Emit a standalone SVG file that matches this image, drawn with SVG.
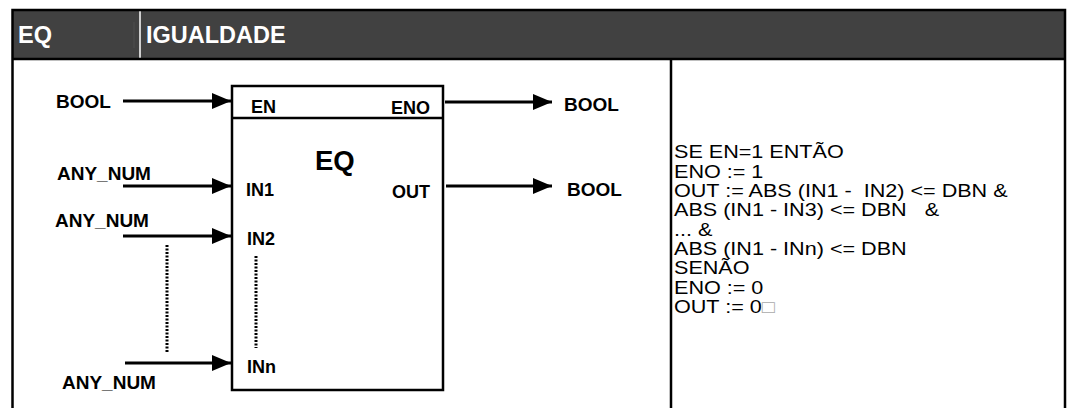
<svg xmlns="http://www.w3.org/2000/svg" width="1069" height="408" viewBox="0 0 1069 408">
<defs>
<marker id="ah" markerUnits="userSpaceOnUse" markerWidth="20" markerHeight="16" refX="19" refY="8" orient="auto">
<polygon points="0,0 19,8 0,16" fill="#000"/>
</marker>
<style>
.lbl{font-family:"Liberation Sans",Arial,sans-serif;font-weight:bold;font-size:19px;fill:#000}
.pin{font-family:"Liberation Sans",Arial,sans-serif;font-weight:bold;font-size:18px;fill:#000}
.hdr{font-family:"Liberation Sans",Arial,sans-serif;font-weight:bold;font-size:23.5px;fill:#fff}
.code{font-family:"Liberation Sans",Arial,sans-serif;font-size:17.5px;fill:#000;white-space:pre}
.wire{stroke:#000;stroke-width:3;fill:none}
.dot{stroke:#000;stroke-width:3;fill:none;stroke-dasharray:2 1.5}
</style>
</defs>
<rect width="1069" height="408" fill="#fff"/>
<g id="table">
<rect x="12" y="10" width="1053" height="49" fill="#414141"/>
<line x1="134" y1="22" x2="134" y2="48" stroke="#4e4e4e" stroke-width="1"/>
<line x1="140" y1="10" x2="140" y2="58" stroke="#fff" stroke-width="1.5"/>
<path d="M12.5,420 V10 H1065 V420" fill="none" stroke="#000" stroke-width="2.5"/>
<line x1="12" y1="59" x2="1065" y2="59" stroke="#000" stroke-width="2.5"/>
<line x1="671" y1="59" x2="671" y2="420" stroke="#000" stroke-width="2.5"/>
<text class="hdr" x="18" y="43">EQ</text>
<text class="hdr" x="146" y="43">IGUALDADE</text>
</g>
<g id="block-EQ">
<rect x="232" y="86" width="211" height="304" fill="#fff" stroke="#000" stroke-width="2.5"/>
<line x1="232" y1="118" x2="443" y2="118" stroke="#000" stroke-width="2.5"/>
<text class="pin" x="251" y="113">EN</text>
<text class="pin" x="430" y="114" text-anchor="end">ENO</text>
<text x="315" y="170" style="font-family:'Liberation Sans',Arial,sans-serif;font-weight:bold;font-size:27.5px">EQ</text>
<text class="pin" x="246" y="196">IN1</text>
<text class="pin" x="430" y="198" text-anchor="end">OUT</text>
<text class="pin" x="247" y="245">IN2</text>
<line class="dot" x1="256" y1="256" x2="256" y2="348"/>
<text class="pin" x="247" y="373">INn</text>
</g>
<g id="labels">
<text class="lbl" x="56" y="108">BOOL</text>
<text class="lbl" x="57" y="180">ANY_NUM</text>
<text class="lbl" x="55" y="227">ANY_NUM</text>
<text class="lbl" x="62" y="389">ANY_NUM</text>
<text class="lbl" x="564" y="111">BOOL</text>
<text class="lbl" x="567" y="196">BOOL</text>
</g>
<g id="connectors">
<line class="wire" x1="123" y1="101" x2="231" y2="101" marker-end="url(#ah)"/>
<line class="wire" x1="123" y1="186" x2="231" y2="186" marker-end="url(#ah)"/>
<line class="wire" x1="123" y1="236" x2="231" y2="236" marker-end="url(#ah)"/>
<line class="wire" x1="125" y1="363" x2="231" y2="363" marker-end="url(#ah)"/>
<line class="dot" x1="167" y1="245" x2="167" y2="353"/>
<line class="wire" x1="445" y1="102" x2="552" y2="102" marker-end="url(#ah)"/>
<line class="wire" x1="446" y1="186" x2="552" y2="186" marker-end="url(#ah)"/>
</g>
<g id="description" transform="translate(674,0) scale(1.234,1)">
<text class="code" x="0" y="158.5">SE EN=1 ENTÃO</text>
<text class="code" x="0" y="177.8">ENO := 1</text>
<text class="code" x="0" y="197.1">OUT := ABS (IN1 -  IN2) &lt;= DBN &amp;</text>
<text class="code" x="0" y="216.4">ABS (IN1 - IN3) &lt;= DBN   &amp;</text>
<text class="code" x="0" y="235.7">... &amp;</text>
<text class="code" x="0" y="255">ABS (IN1 - INn) &lt;= DBN</text>
<text class="code" x="0" y="274.3">SENÃO</text>
<text class="code" x="0" y="293.6">ENO := 0</text>
<text class="code" x="0" y="312.9">OUT := 0<tspan fill="#aaa">□</tspan></text>
</g>
</svg>
